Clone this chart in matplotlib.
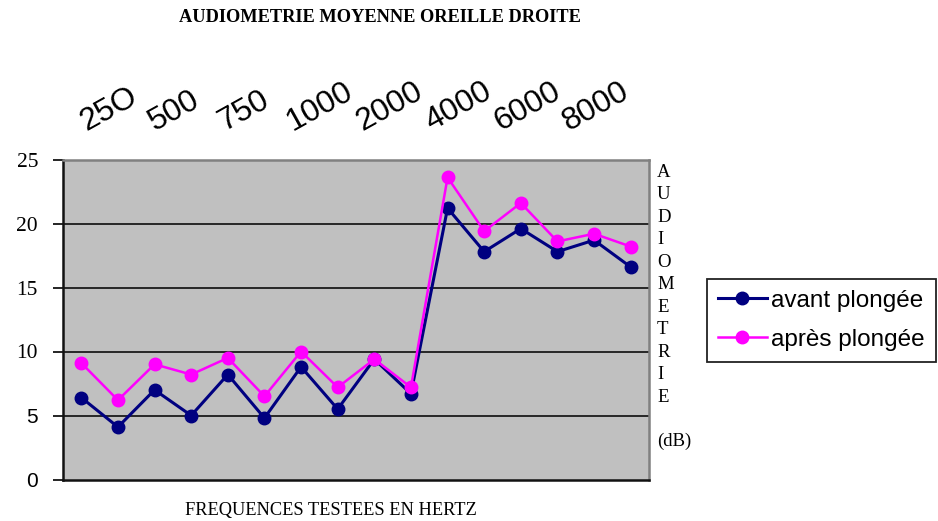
import matplotlib
matplotlib.use('Agg')
import matplotlib.pyplot as plt
import numpy as np

avant = [6.4, 4.1, 7.0, 5.0, 8.2, 4.8, 8.8, 5.5, 9.4, 6.7,
         21.2, 17.8, 19.6, 17.8, 18.7, 16.6]
apres = [9.1, 6.2, 9.0, 8.2, 9.5, 6.5, 10.0, 7.2, 9.4, 7.2,
         23.6, 19.4, 21.6, 18.6, 19.2, 18.2]
frequences = ['25O', '500', '750', '1000', '2000', '4000', '6000', '8000']
yticks = [0, 5, 10, 15, 20, 25]

W, H = 938, 521
fig = plt.figure(figsize=(W / 100, H / 100), dpi=100)
ax = fig.add_axes([63 / W, 1 - 479.5 / H, (649 - 63) / W, (479.5 - 159.5) / H])

x = np.arange(len(avant))
ax.set_facecolor('#c0c0c0')
ax.plot(x, avant, color='#000080', lw=2.2, marker='o', ms=9, label='avant plongée', zorder=3)
ax.plot(x, apres, color='#ff00ff', lw=1.8, marker='o', ms=9, label='après plongée', zorder=4)

ax.set_xlim(-0.5, len(avant) - 0.5)
ax.set_ylim(0, 25)
ax.set_xticks([])
ax.set_yticks(yticks)
ax.set_yticklabels([str(v) for v in yticks])
# 25..10 en Times, 5 et 0 en Arial comme sur l'original
for lab, v in zip(ax.get_yticklabels(), yticks):
    if v >= 10:
        lab.set_fontfamily('Liberation Serif')
        lab.set_fontsize(15.5)
    else:
        lab.set_fontfamily('Liberation Sans')
        lab.set_fontsize(15)
ax.tick_params(axis='y', length=7, width=1.2, pad=11, direction='out')
for v in yticks[1:-1]:
    ax.axhline(v, color='#1a1a1a', lw=1.3, zorder=1)

for s in ['left', 'bottom']:
    ax.spines[s].set_color('#111111')
    ax.spines[s].set_linewidth(1.8)
for s in ['top', 'right']:
    ax.spines[s].set_color('#808080')
    ax.spines[s].set_linewidth(1.8)

# titre et libellés
fig.text(380 / W, 1 - 17 / H, 'AUDIOMETRIE MOYENNE OREILLE DROITE',
         family='Liberation Serif', weight='bold', fontsize=13.2, ha='center', va='center')
fig.text(331 / W, 1 - 510 / H, 'FREQUENCES TESTEES EN HERTZ',
         family='Liberation Serif', fontsize=13.2, ha='center', va='center')

# fréquences inclinées au-dessus du graphique
for i, f in enumerate(frequences):
    fig.text((86 + 69 * i) / W, 1 - 131 / H, f, family='Liberation Sans', fontsize=23,
             rotation=29, rotation_mode='anchor', ha='left', va='baseline')

# titre vertical à droite
for i, c in enumerate('AUDIOMETRIE'):
    fig.text(657 / W, 1 - (172.5 + 22.45 * i) / H, c, family='Liberation Serif',
             fontsize=13.5, ha='left', va='center')
fig.text(657 / W, 1 - 441.5 / H, '(dB)', family='Liberation Serif',
         fontsize=13.5, ha='left', va='center')

leg = fig.legend(loc='upper left', bbox_to_anchor=(707 / W, 1 - 279 / H),
                 borderaxespad=0, fancybox=False, framealpha=1, edgecolor='#222222',
                 prop={'family': 'Liberation Sans', 'size': 17.5},
                 handlelength=2.0, handletextpad=0.2, labelspacing=0.7,
                 borderpad=0.45, markerscale=1.0)
leg.get_frame().set_linewidth(1.3)

plt.savefig('out.png', dpi=100)
